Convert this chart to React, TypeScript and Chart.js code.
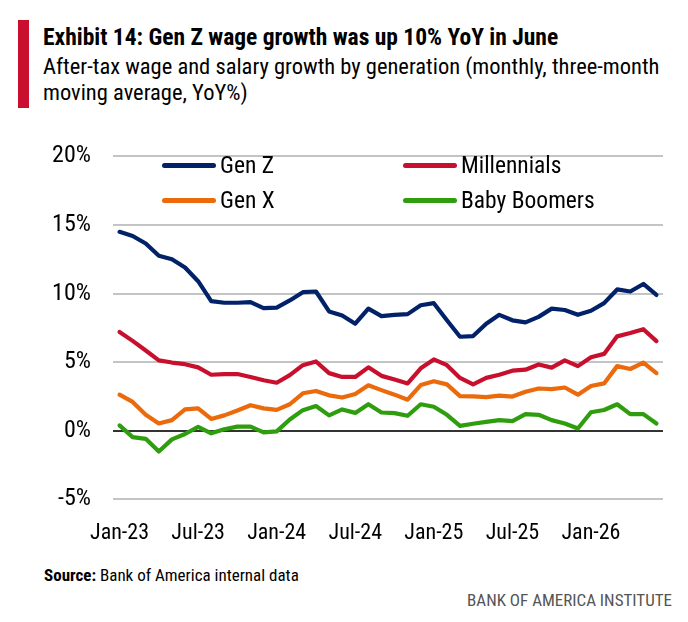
import React, { useEffect, useRef } from "react";
import { Chart, registerables } from "chart.js";

Chart.register(...registerables);

const months = [
  "Jan-23", "Feb-23", "Mar-23", "Apr-23", "May-23", "Jun-23", "Jul-23", "Aug-23", "Sep-23", "Oct-23", "Nov-23", "Dec-23",
  "Jan-24", "Feb-24", "Mar-24", "Apr-24", "May-24", "Jun-24", "Jul-24", "Aug-24", "Sep-24", "Oct-24", "Nov-24", "Dec-24",
  "Jan-25", "Feb-25", "Mar-25", "Apr-25", "May-25", "Jun-25", "Jul-25", "Aug-25", "Sep-25", "Oct-25", "Nov-25", "Dec-25",
  "Jan-26", "Feb-26", "Mar-26", "Apr-26", "May-26", "Jun-26",
];

const genZ = [
  14.5, 14.2, 13.65, 12.75, 12.5, 11.9, 10.9, 9.45, 9.33, 9.33, 9.38, 8.94,
  8.98, 9.5, 10.1, 10.15, 8.7, 8.4, 7.8, 8.9, 8.35, 8.45, 8.5, 9.15,
  9.3, 8.05, 6.85, 6.9, 7.8, 8.45, 8.05, 7.9, 8.3, 8.9, 8.8, 8.45,
  8.75, 9.3, 10.3, 10.15, 10.7, 9.9,
];

const millennials = [
  7.2, 6.55, 5.85, 5.13, 4.97, 4.85, 4.62, 4.08, 4.13, 4.13, 3.92, 3.68,
  3.5, 4.05, 4.78, 5.05, 4.2, 3.92, 3.92, 4.62, 4.0, 3.73, 3.45, 4.55,
  5.2, 4.78, 3.85, 3.38, 3.85, 4.08, 4.38, 4.45, 4.83, 4.6, 5.13, 4.71,
  5.36, 5.6, 6.88, 7.12, 7.4, 6.53,
];

const genX = [
  2.63, 2.1, 1.16, 0.53, 0.77, 1.56, 1.63, 0.86, 1.12, 1.47, 1.86, 1.63,
  1.52, 1.93, 2.73, 2.9, 2.58, 2.42, 2.68, 3.31, 2.96, 2.63, 2.26, 3.33,
  3.61, 3.38, 2.52, 2.5, 2.45, 2.56, 2.49, 2.84, 3.08, 3.03, 3.15, 2.63,
  3.26, 3.45, 4.71, 4.5, 4.97, 4.2,
];

const babyBoomers = [
  0.39, -0.47, -0.59, -1.52, -0.63, -0.24, 0.28, -0.19, 0.11, 0.3, 0.3, -0.12,
  -0.05, 0.82, 1.5, 1.8, 1.12, 1.55, 1.3, 1.93, 1.33, 1.28, 1.09, 1.93,
  1.75, 1.16, 0.35, 0.51, 0.65, 0.77, 0.7, 1.21, 1.16, 0.77, 0.53, 0.16,
  1.35, 1.51, 1.93, 1.21, 1.21, 0.53,
];

const seriesNames = ["Gen Z", "Millennials", "Gen X", "Baby Boomers"];
const seriesColors = ["#012169", "#C8102E", "#EA6A0C", "#2E9E0E"];
const yTicks = [-5, 0, 5, 10, 15, 20];

const FONT = '"Liberation Sans Narrow", "Roboto Condensed", "DejaVu Sans Condensed", "Open Sans", sans-serif';

export default function App() {
  const ref = useRef<HTMLCanvasElement>(null);

  useEffect(() => {
    const values = [genZ, millennials, genX, babyBoomers];
    const chart = new Chart(ref.current as HTMLCanvasElement, {
      type: "line",
      data: {
        labels: months,
        datasets: values.map((d, i) => ({
          label: seriesNames[i],
          data: d,
          borderColor: seriesColors[i],
          backgroundColor: seriesColors[i],
          borderWidth: 4.2,
          pointRadius: 0,
          tension: 0,
          borderJoinStyle: "round" as const,
          borderCapStyle: "round" as const,
        })),
      },
      options: {
        animation: false,
        responsive: false,
        maintainAspectRatio: false,
        layout: { padding: { top: 22.3, right: 25, left: 0, bottom: 0 } },
        plugins: { legend: { display: false }, tooltip: { enabled: false } },
        scales: {
          x: {
            offset: true,
            grid: { display: false },
            border: { display: false },
            ticks: {
              autoSkip: false,
              maxRotation: 0,
              minRotation: 0,
              padding: 13,
              color: "#000",
              font: { family: FONT, size: 22 },
              callback: (_v: any, i: number) => (i % 6 === 0 ? months[i] : ""),
            },
            afterFit: (s: any) => {
              s.height = 61.7;
            },
          },
          y: {
            min: yTicks[0],
            max: yTicks[yTicks.length - 1],
            afterBuildTicks: (s: any) => {
              s.ticks = yTicks.map((v) => ({ value: v }));
            },
            ticks: {
              padding: 22,
              color: "#000",
              font: { family: FONT, size: 24 },
              callback: (v: any) => v + "%",
            },
            grid: {
              drawTicks: false,
              lineWidth: 2,
              color: (ctx: any) => (ctx.tick && ctx.tick.value === 0 ? "#333333" : "#c4c4c4"),
            },
            border: { display: false },
            afterFit: (s: any) => {
              s.width = 113;
            },
          },
        },
      },
    });
    return () => chart.destroy();
  }, []);

  const legendItem = (i: number, left: number, top: number) => (
    <div key={i} style={{ position: "absolute", left, top: top - 15, height: 30, display: "flex", alignItems: "center" }}>
      <div style={{ width: 54, height: 5, borderRadius: 3, background: seriesColors[i] }} />
      <span style={{ marginLeft: 4, fontSize: 23.5, lineHeight: "30px", color: "#000", fontFamily: FONT }}>{seriesNames[i]}</span>
    </div>
  );

  return (
    <div style={{ position: "absolute", left: 0, top: 0, width: 688, height: 622, background: "#fff", fontFamily: FONT, overflow: "hidden" }}>
      <div style={{ position: "absolute", left: 18, top: 20, width: 11, height: 88, background: "#C8102E" }} />
      <div style={{ position: "absolute", left: 43, top: 24, fontSize: 23.5, lineHeight: "26px", fontWeight: 700, color: "#000", whiteSpace: "nowrap" }}>
        Exhibit 14: Gen Z wage growth was up 10% YoY in June
      </div>
      <div style={{ position: "absolute", left: 43, top: 53, width: 645, fontSize: 22.5, lineHeight: "26px", color: "#000" }}>
        After-tax wage and salary growth by generation (monthly, three-month moving average, YoY%)
      </div>
      <canvas ref={ref} width={688} height={441} style={{ position: "absolute", left: 0, top: 120, width: 688, height: 441 }} />
      {legendItem(0, 162, 165)}
      {legendItem(1, 403, 165)}
      {legendItem(2, 162, 200)}
      {legendItem(3, 403, 200)}
      <div style={{ position: "absolute", left: 44, top: 565, fontSize: 17, lineHeight: "20px", color: "#000", whiteSpace: "nowrap" }}>
        <b>Source:</b> Bank of America internal data
      </div>
      <div style={{ position: "absolute", right: 16, top: 590, fontSize: 17, lineHeight: "20px", color: "#555", whiteSpace: "nowrap" }}>
        BANK OF AMERICA INSTITUTE
      </div>
    </div>
  );
}
